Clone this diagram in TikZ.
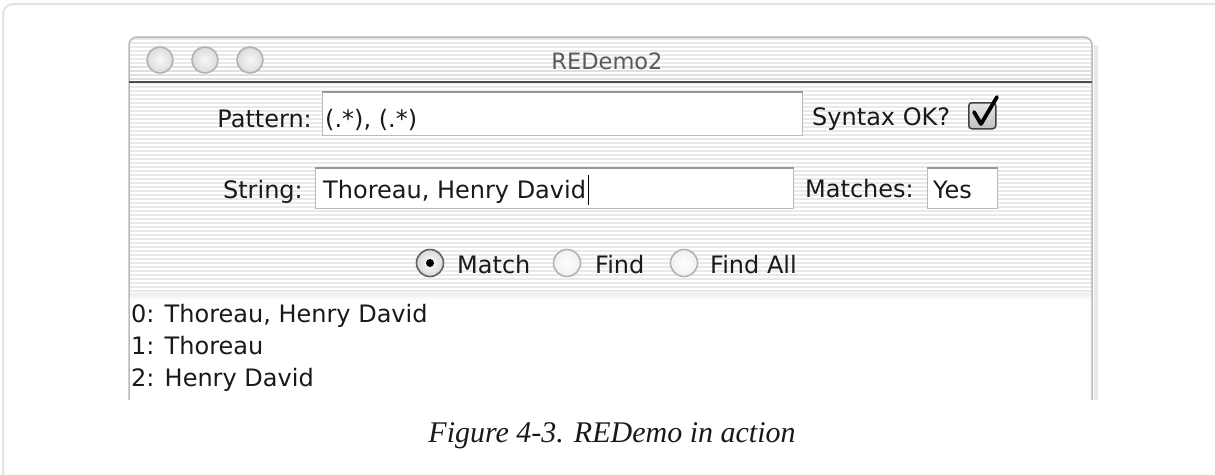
\documentclass[tikz,border=0pt]{standalone}
\usepackage{fontspec}
\setmainfont{Liberation Serif}
\newfontfamily\guifont{DejaVu Sans}
\begin{document}
\begin{tikzpicture}[x=1pt,y=-1pt,
  gui/.style={font=\guifont\fontsize{24}{28}\selectfont, text=black!90, inner sep=0pt},
  field/.style={draw=gray!55, fill=white, line width=1pt, inner sep=0pt},
  fieldtop/.style={draw=gray!80, line width=1.6pt},
  radio/.style={circle, draw=gray!75!black, line width=1.6pt, minimum size=27pt, inner sep=0pt, inner color=white, outer color=gray!30},
  lamp/.style={circle, draw=gray!60, line width=1.6pt, minimum size=26pt, inner sep=0pt, inner color=gray!5, outer color=gray!28},
  stripe/.style={white, line width=1.6pt},
]
\useasboundingbox (0,0) rectangle (1215,474);
\clip (0,0) rectangle (1215,474);
\fill[white] (0,0) rectangle (1215,474);

% page card
\draw[gray!22, line width=2pt, rounded corners=10pt] (3,4) rectangle (1240,500);

% window: title bar and pinstriped control area
\fill[gray!17, rounded corners=8pt] (129,37) -- (1092,37) -- (1092,100) -- (129,100) -- cycle;
\fill[gray!17] (129,82) rectangle (1092,295);
\fill[gray!24] (129,64) rectangle (1092,82);
\foreach \y in {41,45,...,293} \draw[stripe] (130,\y) -- (1091,\y);
\fill[white] (129,295) rectangle (1092,400);
\fill[top color=gray!15, bottom color=white] (129,293) rectangle (1092,300);

% window frame (cut off at the bottom)
\draw[gray!55, line width=1.5pt, rounded corners=8pt] (129,400) -- (129,37) -- (1092,37) -- (1092,400);
\draw[gray!18, line width=4pt] (1096,45) -- (1096,400);
\draw[gray!60!black, line width=2pt] (129,82) -- (1092,82);

% title bar
\node[lamp] (close) at (160,60) {};
\node[lamp] (mini) at (205,60) {};
\node[lamp] (zoom) at (250,60) {};
\node[gui, text=black!65, font=\guifont\fontsize{22.5}{26}\selectfont, anchor=base] (title) at (607,69) {REDemo2};

% pattern row
\node[gui, anchor=base east] (patlbl) at (312,127) {Pattern:};
\node[field, anchor=north west, minimum width=480pt, minimum height=43pt] (patfield) at (322,92) {};
\draw[fieldtop] (patfield.north west) -- (patfield.north east);
\node[gui, anchor=base west] (pattxt) at (325,127) {(.*), (.*)};
\node[gui, anchor=base west] (synlbl) at (812,125) {Syntax OK?};
\node[draw=gray!50!black, line width=1.5pt, rounded corners=3pt, inner sep=0pt,
      minimum width=27pt, minimum height=26pt, anchor=north west,
      top color=gray!20, bottom color=gray!50] (chk) at (968,102) {};
\draw[black, line width=3.8pt, line cap=round, line join=round]
  (974,112) -- (981,124) -- (997,97);

% string row
\node[gui, anchor=base east] (strlbl) at (303,198) {String:};
\node[field, anchor=north west, minimum width=478pt, minimum height=40pt] (strfield) at (315,168) {};
\draw[fieldtop] (strfield.north west) -- (strfield.north east);
\node[gui, anchor=base west] (strtxt) at (323,198) {Thoreau, Henry David};
\draw[black, line width=1.2pt] ([xshift=2pt]strtxt.east |- 0,175) -- ([xshift=2pt]strtxt.east |- 0,205);
\node[gui, anchor=base west] (matlbl) at (805,197) {Matches:};
\node[field, anchor=north west, minimum width=70pt, minimum height=40pt] (matfield) at (927,168) {};
\draw[fieldtop] (matfield.north west) -- (matfield.north east);
\node[gui, anchor=base west] (mattxt) at (933,198) {Yes};

% mode radio buttons
\node[radio] (rmatch) at (430,263) {};
\fill[black] (rmatch) circle (4pt);
\node[gui, anchor=base west] (lmatch) at (457,273) {Match};
\node[radio, draw=gray!60, inner color=white, outer color=gray!12] (rfind) at (567,263) {};
\node[gui, anchor=base west] (lfind) at (595,273) {Find};
\node[radio, draw=gray!60, inner color=white, outer color=gray!12] (rall) at (684,263) {};
\node[gui, anchor=base west] (lall) at (710,273) {Find All};

% result lines
\node[gui, anchor=base west] (out0) at (131,322) {0: Thoreau, Henry David};
\node[gui, anchor=base west] (out1) at (131,354) {1: Thoreau};
\node[gui, anchor=base west] (out2) at (131,386) {2: Henry David};

% caption
\node[anchor=base, inner sep=0pt, font=\itshape\fontsize{30}{36}\selectfont, text=black!90] (cap) at (612,442) {Figure 4-3. REDemo in action};
\end{tikzpicture}
\end{document}
